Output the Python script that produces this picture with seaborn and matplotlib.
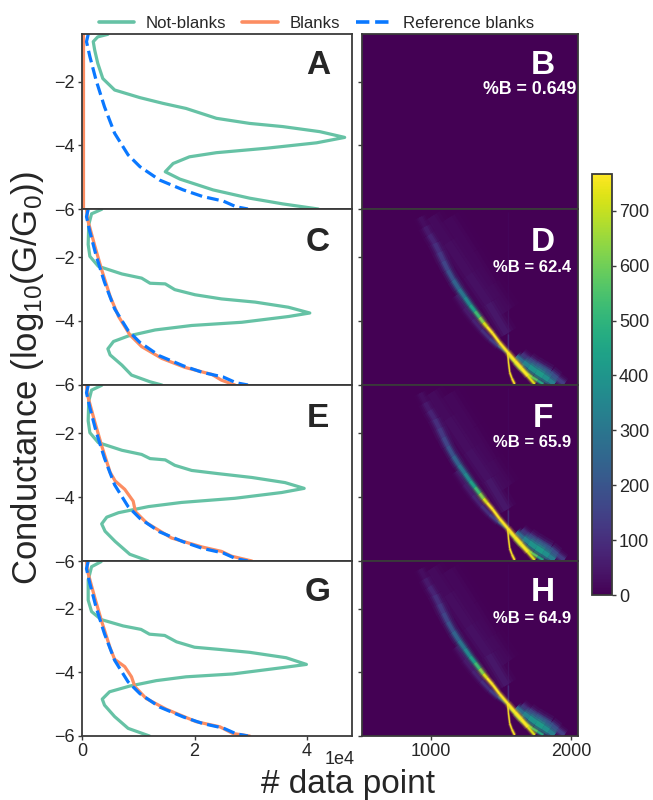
import numpy as np
import pandas as pd
import matplotlib
matplotlib.use("Agg")
import matplotlib.pyplot as plt
from matplotlib.collections import LineCollection
from matplotlib.colors import Normalize
from matplotlib.cm import ScalarMappable
from matplotlib.lines import Line2D
import seaborn as sns

sns.set_theme(style="ticks")
plt.rcParams["font.family"] = ["Liberation Sans", "DejaVu Sans"]
plt.rcParams["mathtext.default"] = "regular"
INK = "#262626"
GREEN, ORANGE, BLUE = "#66c2a5", "#fc8d62", "#0a78ff"

# ---- histogram curves (counts in units of 1e4, conductance in log10(G/G0)) ----
ref_x = [.11, .08, .14, .25, .40, .58, .82, 1.03, 1.38, 1.80, 2.15, 2.51, 2.74, 2.95]
ref_g = [-.51, -.74, -1.21, -1.95, -2.79, -3.62, -4.30, -4.67, -5.09, -5.40, -5.61, -5.75, -5.93, -6.0]

a_x = [.46, .28, .20, .225, .28, .37, .58, 1.03, 1.44, 1.85, 2.39, 2.98, 3.57, 4.23, 4.67, 4.17, 3.28, 2.39, 1.91, 1.62, 1.48, 1.74, 2.33, 2.98, 3.57, 4.20]
a_g = [-.51, -.59, -.74, -1.0, -1.42, -1.9, -2.26, -2.50, -2.68, -2.84, -3.15, -3.31, -3.41, -3.57, -3.75, -3.92, -4.09, -4.23, -4.36, -4.57, -4.83, -5.06, -5.40, -5.66, -5.84, -6.0]
a_blank_x = [.02, .02]
a_blank_g = [-.5, -6.0]

c_x = [.35, .17, .12, .11, .14, .29, .71, 1.06, 1.21, 1.48, 1.65, 2.01, 2.48, 3.08, 3.67, 4.05, 3.67, 2.84, 1.95, 1.30, .82, .56, .46, .50, .71, .88, 1.21, 1.42]
c_g = [-.51, -.65, -.99, -1.61, -1.98, -2.29, -2.53, -2.66, -2.82, -2.84, -3.02, -3.18, -3.31, -3.41, -3.57, -3.75, -3.86, -4.04, -4.14, -4.28, -4.47, -4.64, -4.87, -5.06, -5.38, -5.69, -5.90, -6.0]
c_blank_x = [.08, .10, .23, .35, .50, .65, .85, 1.06, 1.42, 1.83, 2.31, 2.48, 2.72]
c_blank_g = [-.52, -.83, -1.67, -2.40, -3.23, -3.86, -4.43, -4.80, -5.17, -5.45, -5.67, -5.85, -6.0]

e_x = [.35, .17, .12, .11, .14, .29, .71, 1.06, 1.21, 1.48, 1.65, 1.95, 2.42, 3.02, 3.61, 3.95, 3.55, 2.72, 1.77, 1.18, .65, .44, .35, .41, .59, .85, 1.18]
e_g = [-.51, -.66, -1.0, -1.62, -1.99, -2.30, -2.54, -2.67, -2.80, -2.84, -3.01, -3.17, -3.27, -3.39, -3.55, -3.73, -3.86, -4.04, -4.17, -4.30, -4.49, -4.63, -4.84, -5.07, -5.39, -5.79, -6.0]
e_blank_x = [.08, .10, .23, .35, .50, .59, .76, .91, .95, 1.15, 1.59, 2.13, 2.48, 2.66, 3.02]
e_blank_g = [-.52, -.83, -1.67, -2.40, -3.23, -3.50, -3.76, -4.13, -4.46, -4.81, -5.28, -5.56, -5.70, -5.85, -6.0]

g_x = [.34, .17, .11, .11, .17, .34, .73, 1.05, 1.20, 1.47, 1.68, 2.0, 2.45, 2.98, 3.63, 3.99, 3.57, 2.68, 1.85, 1.32, .85, .49, .36, .40, .58, .82, 1.20]
g_g = [-.52, -.68, -1.10, -1.73, -2.09, -2.34, -2.54, -2.65, -2.80, -2.84, -3.04, -3.21, -3.28, -3.37, -3.54, -3.75, -3.85, -4.05, -4.14, -4.26, -4.43, -4.61, -4.84, -5.03, -5.39, -5.76, -6.0]
g_blank_x = [.08, .10, .23, .35, .50, .58, .76, .88, .94, 1.14, 1.50, 2.03, 2.45, 2.68, 2.98]
g_blank_g = [-.52, -.83, -1.67, -2.40, -3.23, -3.59, -3.82, -4.14, -4.45, -4.82, -5.16, -5.55, -5.71, -5.92, -6.0]

left_panels = [("A", a_x, a_g, a_blank_x, a_blank_g),
               ("C", c_x, c_g, c_blank_x, c_blank_g),
               ("E", e_x, e_g, e_blank_x, e_blank_g),
               ("G", g_x, g_g, g_blank_x, g_blank_g)]

# ---- density traces of the right-hand maps: time, conductance, count, width ----
main_t = [925, 960, 990, 1028, 1060, 1090, 1121, 1160, 1200, 1242, 1280, 1315, 1348, 1375, 1400, 1441, 1490, 1548, 1600, 1647, 1690, 1740]
main_g = [-.75, -1.05, -1.30, -1.57, -1.85, -2.13, -2.41, -2.72, -3.0, -3.26, -3.5, -3.70, -3.89, -4.05, -4.18, -4.39, -4.68, -4.98, -5.25, -5.48, -5.72, -5.97]
main_v = [18, 38, 65, 90, 115, 145, 175, 220, 270, 330, 395, 480, 570, 680, 760, 800, 800, 800, 800, 800, 780, 680]
main_w = [7, 8, 8, 8, 8, 8, 7, 7, 7, 6, 6, 5, 5, 4.5, 4, 3.5, 3.5, 4, 4.5, 4.5, 3.5, 3]

lowb_t = [1548, 1552, 1562, 1578, 1597]
lowb_g = [-4.98, -5.25, -5.61, -5.80, -5.97]
lowb_v = [800, 800, 800, 800, 800]
lowb_w = [1.6, 1.6, 1.8, 2.2, 2.6]

fan1_t = [1560, 1600, 1640, 1680, 1720, 1760, 1800]
fan1_g = [-5.10, -5.30, -5.50, -5.63, -5.75, -5.86, -5.97]
fan1_v = [600, 600, 600, 640, 620, 520, 420]
fan1_w = [2, 3, 3.5, 3.5, 3, 3, 3]

fan2_t = [1610, 1660, 1700, 1750, 1800, 1840, 1880]
fan2_g = [-5.10, -5.28, -5.42, -5.58, -5.72, -5.84, -5.97]
fan2_v = [220, 320, 380, 420, 420, 360, 300]
fan2_w = [5, 8, 9, 10, 10, 9, 8]

fan3_t = [1650, 1700, 1750, 1800, 1850, 1900, 1950]
fan3_g = [-5.02, -5.20, -5.36, -5.50, -5.62, -5.80, -5.97]
fan3_v = [80, 110, 150, 170, 170, 160, 110]
fan3_w = [5, 8, 9, 9, 9, 8, 6]

vert_t = [1550, 1550, 1550, 1550]
vert_g = [-.6, -3.5, -4.4, -4.9]
vert_v = [12, 18, 55, 150]
vert_w = [1, 1, 1.2, 1.5]

side1_t = [1180, 1240, 1300, 1360, 1420, 1480, 1548]
side1_g = [-3.20, -3.60, -3.95, -4.27, -4.55, -4.78, -4.98]
side1_v = [30, 45, 60, 85, 120, 170, 260]
side1_w = [6, 6, 6, 5, 5, 4, 3]

side2_t = [1000, 1120, 1270, 1410, 1540]
side2_g = [-.75, -1.55, -2.55, -3.45, -4.40]
side2_v = [22, 25, 30, 38, 60]
side2_w = [14, 16, 16, 14, 10]

side3_t = [1120, 1280, 1420, 1540]
side3_g = [-.80, -1.90, -2.90, -3.70]
side3_v = [14, 16, 18, 22]
side3_w = [18, 18, 18, 14]

ridges = [(vert_t, vert_g, vert_v, vert_w),
          (side3_t, side3_g, side3_v, side3_w),
          (side2_t, side2_g, side2_v, side2_w),
          (side1_t, side1_g, side1_v, side1_w),
          (fan3_t, fan3_g, fan3_v, fan3_w),
          (fan2_t, fan2_g, fan2_v, fan2_w),
          (fan1_t, fan1_g, fan1_v, fan1_w),
          (main_t, main_g, main_v, main_w),
          (lowb_t, lowb_g, lowb_v, lowb_w)]

right_letters = ["B", "D", "F", "H"]
percent_b = ["0.649", "62.4", "65.9", "64.9"]
letter_y = [.82, .81, .81, .82]
pct_y = [.68, .67, .675, .672]
pct_x = [.776, .787, .787, .787]
pct_size = [12.8, 12, 12, 12]
cbar_ticks = [0, 100, 200, 300, 400, 500, 600, 700]
VMAX = 767

W, H = 653, 800
fig = plt.figure(figsize=(W / 100, H / 100), dpi=100)

def box(x0, x1, y0, y1):
    return [x0 / W, 1 - y1 / H, (x1 - x0) / W, (y1 - y0) / H]

tops = [34, 209, 385, 561, 736]
norm = Normalize(0, VMAX)
cmap = plt.get_cmap("viridis")

def style(ax):
    for s in ax.spines.values():
        s.set_visible(True)
        s.set_linewidth(1.3)
        s.set_color("#3a3a3a")
    ax.tick_params(length=3, width=1, color="#3a3a3a", labelsize=13, labelcolor=INK, pad=2)

for i in range(4):
    name, nx, ng, bx, bg = left_panels[i]
    ax = fig.add_axes(box(82, 352, tops[i], tops[i + 1]))
    for xs, gs, col, ls in [(nx, ng, GREEN, "-"), (bx, bg, ORANGE, "-"), (ref_x, ref_g, BLUE, "--")]:
        df = pd.DataFrame({"n": np.array(xs) * 1e4, "g": gs})
        sns.lineplot(data=df, x="n", y="g", orient="y", sort=False, estimator=None,
                     color=col, linestyle=ls, linewidth=2.3, ax=ax, legend=False)
    ax.set_xlim(0, 4.8e4)
    ax.set_ylim(-6, -0.5)
    ax.set_yticks([-2, -4, -6])
    ax.set_xlabel("")
    ax.set_ylabel("")
    style(ax)
    if i == 3:
        ax.set_xticks([0, 2e4, 4e4])
        ax.ticklabel_format(axis="x", style="sci", scilimits=(0, 0))
        ax.xaxis.get_offset_text().set_visible(False)
        fig.text(340 / W, 1 - 759 / H, "1e4", ha="center", va="center", fontsize=13, color=INK)
    else:
        ax.set_xticks([])
    ax.text(.874, letter_y[i], name, transform=ax.transAxes, ha="center", va="center",
            fontsize=24, fontweight="bold", color=INK)

    rx = fig.add_axes(box(362, 578, tops[i], tops[i + 1]))
    rx.set_facecolor(cmap(0.0))
    if i > 0:
        for t, g, v, w in ridges:
            pts = np.column_stack([t, g])
            segs = np.stack([pts[:-1], pts[1:]], axis=1)
            vals = (np.array(v, float)[:-1] + np.array(v, float)[1:]) / 2
            wid = (np.array(w, float)[:-1] + np.array(w, float)[1:]) / 2
            for scale, alpha in [(1.9, .14), (1.35, .25), (.9, .5), (.5, .95)]:
                rx.add_collection(LineCollection(segs, array=vals, cmap=cmap, norm=norm,
                                                 linewidths=wid * .72 * scale, alpha=alpha,
                                                 capstyle="butt"))
    rx.set_xlim(510, 2048)
    rx.set_ylim(-6, -0.5)
    rx.set_yticks([-2, -4, -6])
    rx.set_yticklabels([])
    style(rx)
    if i == 3:
        rx.set_xticks([1000, 2000])
    else:
        rx.set_xticks([])
    rx.text(.838, letter_y[i], right_letters[i], transform=rx.transAxes, ha="center", va="center",
            fontsize=24, fontweight="bold", color="white")
    rx.text(pct_x[i], pct_y[i], "%B = " + percent_b[i], transform=rx.transAxes, ha="center",
            va="center", fontsize=pct_size[i], fontweight="bold", color="white")

cax = fig.add_axes(box(592, 612, 174, 595))
cb = fig.colorbar(ScalarMappable(norm=norm, cmap=cmap), cax=cax, ticks=cbar_ticks)
cb.outline.set_linewidth(1.3)
cb.outline.set_edgecolor("#3a3a3a")
cb.ax.tick_params(length=3, width=1, color="#3a3a3a", labelsize=13, labelcolor=INK, pad=2)

handles = [Line2D([], [], color=GREEN, lw=2.6),
           Line2D([], [], color=ORANGE, lw=2.6),
           Line2D([], [], color=BLUE, lw=2.6, ls="--")]
fig.legend(handles, ["Not-blanks", "Blanks", "Reference blanks"], ncol=3, frameon=False,
           loc="center", bbox_to_anchor=(316.5 / W, 1 - 23 / H), fontsize=12.1,
           handlelength=2.1, columnspacing=.95, handletextpad=.7, labelcolor=INK)

fig.text(28 / W, 1 - 378 / H, r"Conductance (log$_{10}$(G/G$_0$))", rotation=90,
         ha="center", va="center", fontsize=25, color=INK)
fig.text(348 / W, 1 - 784 / H, "# data point", ha="center", va="center", fontsize=24, color=INK)

fig.savefig("out.png", dpi=100)
